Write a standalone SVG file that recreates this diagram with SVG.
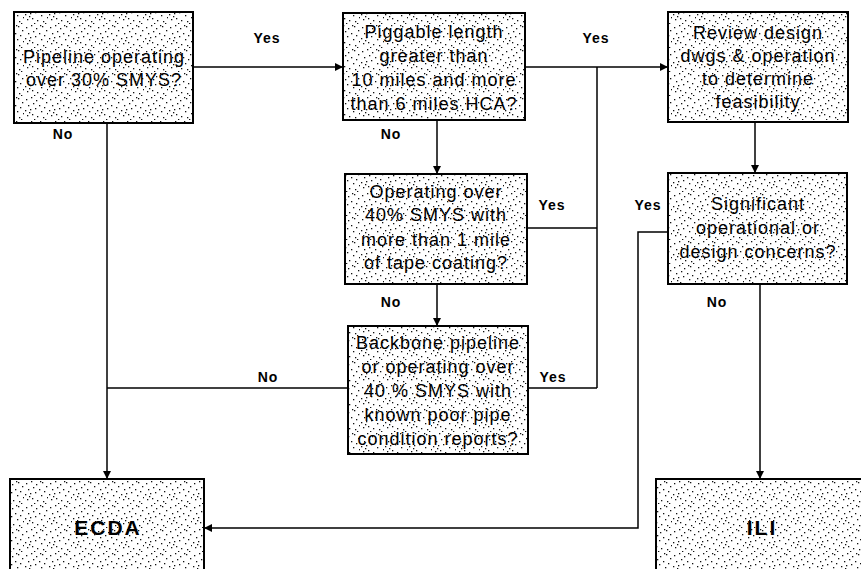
<svg xmlns="http://www.w3.org/2000/svg" width="861" height="569" viewBox="0 0 861 569">
<defs>
<pattern id="stip" width="24" height="24" patternUnits="userSpaceOnUse">
<g fill="#111">
<rect x="2" y="3" width="1.3" height="1.3"/><rect x="7" y="1" width="1.3" height="1.3"/><rect x="12" y="4" width="1.3" height="1.3"/><rect x="18" y="2" width="1.3" height="1.3"/><rect x="22" y="6" width="1.3" height="1.3"/><rect x="4" y="9" width="1.3" height="1.3"/><rect x="9" y="7" width="1.3" height="1.3"/><rect x="15" y="9" width="1.3" height="1.3"/><rect x="20" y="11" width="1.3" height="1.3"/><rect x="1" y="14" width="1.3" height="1.3"/><rect x="6" y="13" width="1.3" height="1.3"/><rect x="11" y="12" width="1.3" height="1.3"/><rect x="17" y="15" width="1.3" height="1.3"/><rect x="23" y="17" width="1" height="1.3"/><rect x="3" y="19" width="1.3" height="1.3"/><rect x="8" y="18" width="1.3" height="1.3"/><rect x="13" y="20" width="1.3" height="1.3"/><rect x="19" y="21" width="1.3" height="1.3"/><rect x="10" y="23" width="1.3" height="1"/><rect x="16" y="1" width="1.3" height="1.3"/><rect x="5" y="16" width="1.3" height="1.3"/><rect x="21" y="23" width="1.3" height="1"/>
</g>
</pattern>
<marker id="arr" viewBox="0 0 10 10" refX="10" refY="5" markerWidth="8" markerHeight="8" markerUnits="userSpaceOnUse" orient="auto">
<path d="M0,0 L10,5 L0,10 z" fill="#000"/>
</marker>
</defs>
<style>
.box{fill:url(#stip);stroke:#000;stroke-width:2}
.bg{fill:#fff}
.t{font-family:"Liberation Sans",Arial,sans-serif;font-size:18px;letter-spacing:1px;fill:#000;text-anchor:middle}
.big{font-family:"Liberation Sans",Arial,sans-serif;font-size:21px;font-weight:bold;letter-spacing:2px;fill:#000;text-anchor:middle}
.lbl{font-family:"Liberation Sans",Arial,sans-serif;font-size:14px;font-weight:bold;letter-spacing:1px;fill:#000;text-anchor:middle}
.c{fill:none;stroke:#000;stroke-width:1.5}
</style>
<rect width="861" height="569" fill="#fff"/>

<g id="connectors">
<path class="c" d="M193,67 H343" marker-end="url(#arr)"/>
<path class="c" d="M525,67 H668" marker-end="url(#arr)"/>
<path class="c" d="M597,67 V388"/>
<path class="c" d="M527,228 H597"/>
<path class="c" d="M528,388 H597"/>
<path class="c" d="M107,123 V479" marker-end="url(#arr)"/>
<path class="c" d="M348,388 H107"/>
<path class="c" d="M437,120 V174" marker-end="url(#arr)"/>
<path class="c" d="M437,284 V326" marker-end="url(#arr)"/>
<path class="c" d="M755,122 V173" marker-end="url(#arr)"/>
<path class="c" d="M668,232 H638 V528 H204" marker-end="url(#arr)"/>
<path class="c" d="M760,284 V479" marker-end="url(#arr)"/>
<text class="lbl" x="267" y="43">Yes</text>
<text class="lbl" x="596" y="43">Yes</text>
<text class="lbl" x="63" y="139">No</text>
<text class="lbl" x="391" y="139">No</text>
<text class="lbl" x="552" y="210">Yes</text>
<text class="lbl" x="391" y="307">No</text>
<text class="lbl" x="268" y="382">No</text>
<text class="lbl" x="553" y="382">Yes</text>
<text class="lbl" x="648" y="210">Yes</text>
<text class="lbl" x="717" y="307">No</text>
</g>

<g id="n1">
<rect class="bg" x="14" y="12" width="179" height="111"/>
<rect class="box" x="14" y="12" width="179" height="111"/>
<text class="t" x="104" y="63">Pipeline operating</text>
<text class="t" x="104" y="86">over 30% SMYS?</text>
</g>

<g id="n2">
<rect class="bg" x="343" y="13" width="182" height="107"/>
<rect class="box" x="343" y="13" width="182" height="107"/>
<text class="t" x="434" y="38">Piggable length</text>
<text class="t" x="434" y="62">greater than</text>
<text class="t" x="434" y="86">10 miles and more</text>
<text class="t" x="434" y="110">than 6 miles HCA?</text>
</g>

<g id="n3">
<rect class="bg" x="668" y="12" width="180" height="110"/>
<rect class="box" x="668" y="12" width="180" height="110"/>
<text class="t" x="758" y="39">Review design</text>
<text class="t" x="758" y="62">dwgs &amp; operation</text>
<text class="t" x="758" y="85">to determine</text>
<text class="t" x="758" y="108">feasibility</text>
</g>

<g id="n4">
<rect class="bg" x="345" y="174" width="182" height="110"/>
<rect class="box" x="345" y="174" width="182" height="110"/>
<text class="t" x="436" y="198">Operating over</text>
<text class="t" x="436" y="221">40% SMYS with</text>
<text class="t" x="436" y="246">more than 1 mile</text>
<text class="t" x="436" y="269">of tape coating?</text>
</g>

<g id="n5">
<rect class="bg" x="348" y="326" width="180" height="128"/>
<rect class="box" x="348" y="326" width="180" height="128"/>
<text class="t" x="438" y="349">Backbone pipeline</text>
<text class="t" x="438" y="373">or operating over</text>
<text class="t" x="438" y="397">40 % SMYS with</text>
<text class="t" x="438" y="421">known poor pipe</text>
<text class="t" x="438" y="445">condition reports?</text>
</g>

<g id="n6">
<rect class="bg" x="668" y="173" width="179" height="111"/>
<rect class="box" x="668" y="173" width="179" height="111"/>
<text class="t" x="758" y="210">Significant</text>
<text class="t" x="758" y="234">operational or</text>
<text class="t" x="758" y="258">design concerns?</text>
</g>

<g id="ecda">
<rect class="bg" x="10" y="479" width="194" height="100"/>
<rect class="box" x="10" y="479" width="194" height="100"/>
<text class="big" x="108" y="535">ECDA</text>
</g>

<g id="ili">
<rect class="bg" x="656" y="479" width="215" height="100"/>
<rect class="box" x="656" y="479" width="215" height="100"/>
<text class="big" x="762" y="535">ILI</text>
</g>
</svg>
